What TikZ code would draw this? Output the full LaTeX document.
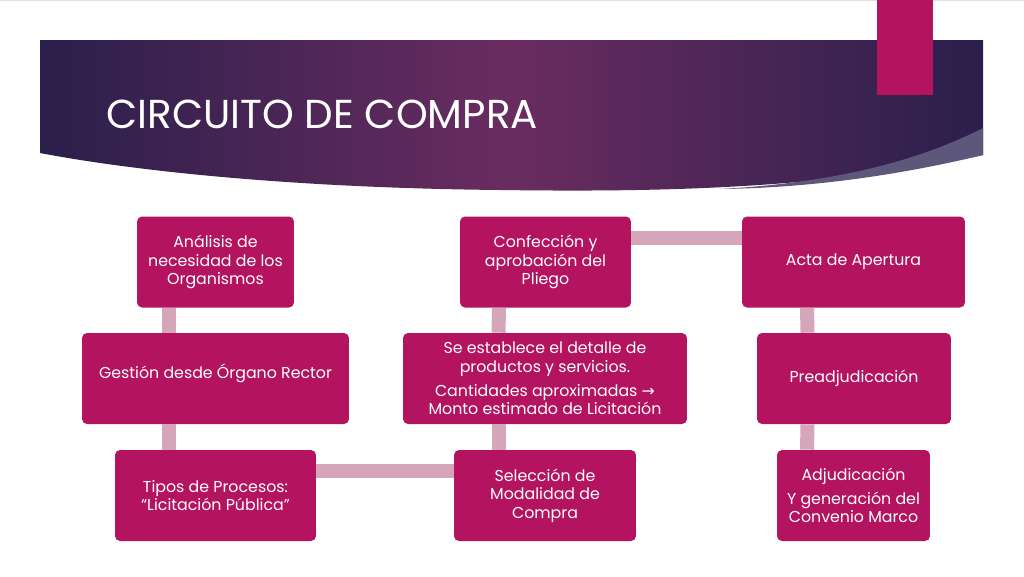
\documentclass[tikz,border=0pt]{standalone}
\usepackage{fontspec}
\setmainfont{Poppins}
\newfontfamily\simbolo{DejaVu Sans}
\usepackage{xcolor}
\usepackage{tikz}
\usetikzlibrary{positioning,shapes}

\definecolor{fucsia}{HTML}{B3135F}
\definecolor{rosado}{HTML}{D5A6B9}
\definecolor{violeta}{HTML}{2A1F4B}
\definecolor{malva}{HTML}{6A2C60}
\definecolor{lila}{HTML}{5E577C}

\begin{document}
\begin{tikzpicture}[x=0.02cm,y=-0.02cm,
    paso/.style={draw=none, fill=fucsia, rounded corners=0.1cm, text=white, align=center, minimum height=1.82cm, inner sep=2pt, font=\fontsize{9}{10.5}\selectfont},
    enlace/.style={draw=rosado, line width=0.28cm}]
    \useasboundingbox (0,0) rectangle (1024,576);
    \fill[white] (0,0) rectangle (1024,576);
    \draw[gray!25, line width=0.5pt] (0,0.5) -- (1024,0.5);

    % banda del titulo
    \shade[left color=violeta, right color=violeta, middle color=malva]
        (40,40) -- (983,40) -- (983,155) .. controls (820,190) and (650,192) .. (500,190) .. controls (300,188) and (140,172) .. (40,153) -- cycle;
    \fill[lila] (720,189) .. controls (850,182) and (930,155) .. (983,128) -- (983,155) .. controls (900,175) and (810,188) .. (720,189) -- cycle;
    \fill[fucsia] (877,0) rectangle (933,95);

    \node[anchor=base west, text=white, inner sep=0pt, font=\fontsize{23}{28}\selectfont] (titulo) at (106,128) {CIRCUITO DE COMPRA};

    \node[paso, minimum width=3.14cm] (n1) at (215.5,262) {Análisis de\\necesidad de los\\Organismos};
    \node[paso, minimum width=5.34cm, text depth=0.3cm] (n2) at (215.5,378.5) {Gestión desde Órgano Rector};
    \node[paso, minimum width=4.02cm] (n3) at (215.5,495.5) {Tipos de Procesos:\\“Licitación Pública”};

    \node[paso, minimum width=3.64cm] (n4) at (545,495.5) {Selección de\\Modalidad de\\Compra};
    \node[paso, minimum width=5.68cm] (n5) at (545,378.5) {Se establece el detalle de\\productos y servicios.\\[3pt]Cantidades aproximadas {\simbolo →}\\Monto estimado de Licitación};
    \node[paso, minimum width=3.42cm] (n6) at (545.5,262) {Confección y\\aprobación del\\Pliego};

    \node[paso, minimum width=4.46cm] (n7) at (853.5,262) {Acta de Apertura};
    \node[paso, minimum width=3.88cm] (n8) at (854,378.5) {Preadjudicación};
    \node[paso, minimum width=3.06cm] (n9) at (853.5,495.5) {Adjudicación\\[3pt]Y generación del\\Convenio Marco};

    \draw[enlace] ([xshift=-0.93cm]n1.south) -- ([xshift=-0.93cm]n2.north);
    \draw[enlace] ([xshift=-0.93cm]n2.south) -- ([xshift=-0.93cm]n3.north);
    \draw[enlace] ([yshift=-0.43cm]n3.north east) -- ([yshift=-0.43cm]n4.north west);
    \draw[enlace] ([xshift=-0.93cm]n4.north) -- ([xshift=-0.93cm]n5.south);
    \draw[enlace] ([xshift=-0.93cm]n5.north) -- ([xshift=-0.93cm]n6.south);
    \draw[enlace] ([yshift=-0.43cm]n6.north east) -- ([yshift=-0.43cm]n7.north west);
    \draw[enlace] ([xshift=-0.93cm]n7.south) -- ([xshift=-0.93cm]n8.north);
    \draw[enlace] ([xshift=-0.93cm]n8.south) -- ([xshift=-0.93cm]n9.north);
\end{tikzpicture}
\end{document}
